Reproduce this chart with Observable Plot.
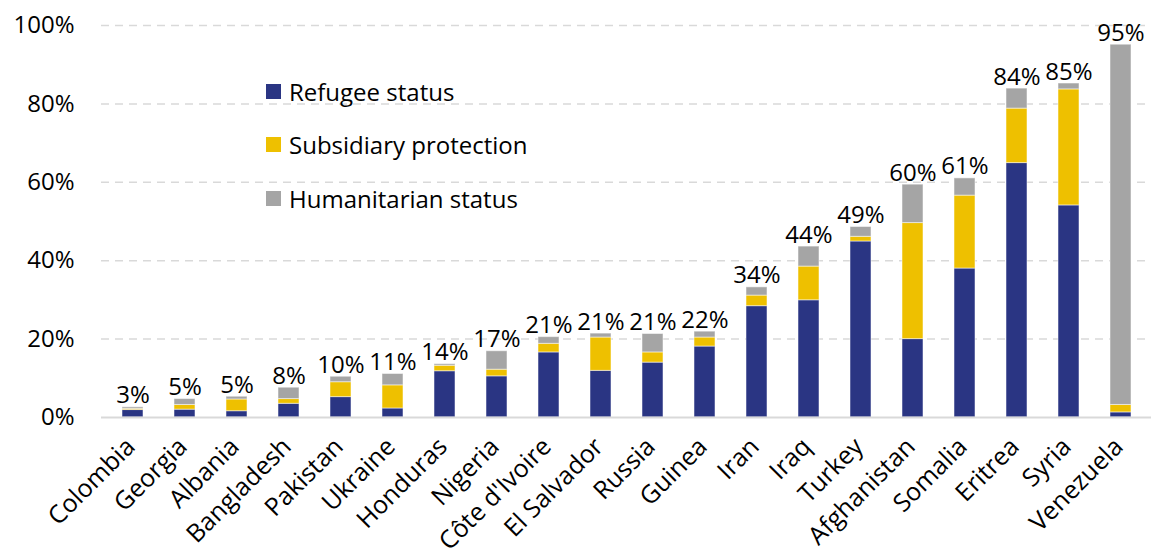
<!DOCTYPE html>
<html>
<head>
<meta charset="utf-8">
<script src="https://cdn.jsdelivr.net/npm/d3@7"></script>
<script src="https://cdn.jsdelivr.net/npm/@observablehq/plot@0.6"></script>
<style>
  html, body { margin: 0; padding: 0; background: #fff; }
  #wrap { position: relative; width: 1153px; height: 553px; font-family: "Open Sans", sans-serif; }
  #legend { position: absolute; left: 266px; top: 76px; font-size: 24px; color: #000; }
  #legend .item { display: flex; align-items: center; height: 30px; margin-bottom: 23.5px; white-space: nowrap; }
  #legend .sw { width: 15px; height: 15px; margin-right: 8px; flex: none; }
</style>
</head>
<body>
<div id="wrap"><div id="chart"></div><div id="legend"></div></div>
<script>
const countries = ["Colombia","Georgia","Albania","Bangladesh","Pakistan","Ukraine","Honduras","Nigeria","Côte d'Ivoire","El Salvador","Russia","Guinea","Iran","Iraq","Turkey","Afghanistan","Somalia","Eritrea","Syria","Venezuela"];
const refugee      = [1.9, 2.0, 1.6, 3.5, 5.2, 2.3, 11.8, 10.5, 16.6, 11.9, 14.0, 18.1, 28.4, 29.9, 44.9, 20.0, 38.0, 64.9, 54.1, 1.3];
const subsidiary   = [0.3, 1.2, 3.0, 1.2, 3.8, 5.9, 1.4, 1.7, 2.2, 8.5, 2.6, 2.3, 2.7, 8.6, 1.2, 29.6, 18.6, 13.9, 29.6, 1.9];
const humanitarian = [0.4, 1.5, 0.7, 2.9, 1.4, 2.9, 0.4, 4.7, 1.7, 1.0, 4.7, 1.5, 2.1, 5.1, 2.5, 9.8, 4.4, 5.1, 1.5, 91.9];
const totalLabels  = ["3%","5%","5%","8%","10%","11%","14%","17%","21%","21%","21%","22%","34%","44%","49%","60%","61%","84%","85%","95%"];
const seriesNames  = ["Refugee status","Subsidiary protection","Humanitarian status"];
const seriesColors = ["#2a3583","#eec000","#a5a5a5"];
const yTicks = [0, 20, 40, 60, 80, 100];

const seriesValues = [refugee, subsidiary, humanitarian];
const tidy = [];
countries.forEach((c, i) => {
  seriesNames.forEach((s, j) => tidy.push({country: c, status: s, value: seriesValues[j][i]}));
});
const totals = countries.map((c, i) => ({country: c, total: refugee[i] + subsidiary[i] + humanitarian[i], label: totalLabels[i]}));

const chart = Plot.plot({
  width: 1153,
  height: 553,
  marginLeft: 101,
  marginRight: 2,
  marginTop: 25,
  marginBottom: 136,
  style: {fontFamily: "Open Sans, sans-serif", fontSize: "24px", color: "#000", background: "transparent"},
  x: {domain: countries, paddingInner: 0.6, paddingOuter: 0.3, label: null},
  y: {domain: [0, 100], label: null},
  color: {domain: seriesNames, range: seriesColors},
  marks: [
    Plot.gridY(yTicks.filter(d => d > 0), {stroke: "#d9d9d9", strokeOpacity: 1, strokeWidth: 1.5, strokeDasharray: "8,6"}),
    Plot.barY(tidy, {x: "country", y: "value", fill: "status", stroke: "#ffffff", strokeOpacity: 0.5, strokeWidth: 1}),
    Plot.ruleY([0], {stroke: "#d9d9d9", strokeWidth: 2}),
    Plot.text(totals, {x: "country", y: "total", text: "label", lineAnchor: "bottom", dy: -4, fontSize: 24, fill: "#000"}),
    Plot.axisY(yTicks, {tickFormat: d => d + "%", tickSize: 0, tickPadding: 27, fontSize: 24, label: null}),
    Plot.axisX({tickRotate: -45, tickSize: 0, tickPadding: 25, dx: -2, fontSize: 25, label: null})
  ]
});
document.getElementById("chart").appendChild(chart);

const legend = document.getElementById("legend");
seriesNames.forEach((s, j) => {
  const item = document.createElement("div");
  item.className = "item";
  const sw = document.createElement("span");
  sw.className = "sw";
  sw.style.background = seriesColors[j];
  const t = document.createElement("span");
  t.textContent = s;
  item.appendChild(sw);
  item.appendChild(t);
  legend.appendChild(item);
});
</script>
</body>
</html>
